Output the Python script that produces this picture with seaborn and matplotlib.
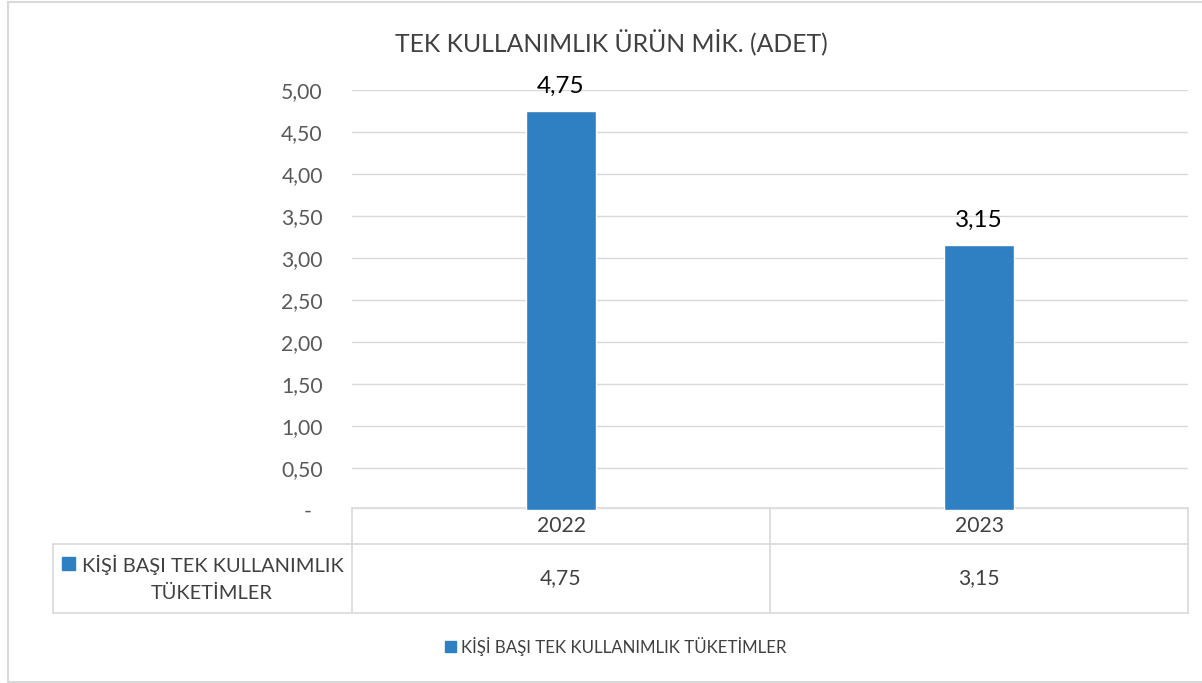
import numpy as np
import pandas as pd
import seaborn as sns
import matplotlib.pyplot as plt
from matplotlib.patches import Patch, Rectangle
from matplotlib.lines import Line2D
from matplotlib.transforms import blended_transform_factory

# chart data
years = ['2022', '2023']
values = [4.75, 3.15]
series_name = 'KİŞİ BAŞI TEK KULLANIMLIK TÜKETİMLER'
title = 'TEK KULLANIMLIK ÜRÜN MİK. (ADET)'
yticks = np.arange(0, 5.01, 0.5)


def tr_fmt(v, zero='-'):
    # excel accounting style: 0 -> "-", decimals with comma
    if v == 0:
        return zero
    return f'{v:.2f}'.replace('.', ',')


sns.set_theme(style='white')
plt.rcParams['font.family'] = ['Lato', 'DejaVu Sans']

bar_color = '#2E80C2'
grid_color = '#D9D9D9'
text_color = '#404040'

df = pd.DataFrame({'year': years, 'value': values})

fig = plt.figure(figsize=(12.02, 6.83), dpi=100)
W, H = 1202, 683

# overlay in pixel coords (origin top-left) for border / table
over = fig.add_axes([0, 0, 1, 1])
over.set_xlim(0, W)
over.set_ylim(H, 0)
over.set_axis_off()

ax = fig.add_axes([352 / W, 1 - 510 / H, (1188 - 352) / W, (510 - 90) / H])
sns.barplot(data=df, x='year', y='value', color=bar_color, width=0.167,
            saturation=1, ax=ax)
ax.set_xlim(-0.5, 1.5)
ax.set_ylim(0, 5)
ax.set_yticks(yticks)
ax.set_yticklabels([tr_fmt(v, zero='-  ') for v in yticks], fontsize=15.2, color='#595959')
ax.tick_params(axis='y', length=0, pad=21)
ax.set_xticks([])
ax.set_xlabel('')
ax.set_ylabel('')
for s in ax.spines.values():
    s.set_visible(False)
ax.grid(axis='y', color=grid_color, linewidth=1)
ax.set_axisbelow(True)
ax.patch.set_alpha(0)

for i, v in enumerate(values):
    ax.annotate(tr_fmt(v), (i, v), xytext=(0, 10.5), textcoords='offset points',
                ha='center', va='bottom', fontsize=17.5, color='black')

fig.text(611 / W, 1 - 42 / H, title, ha='center', va='center', fontsize=17.8,
         color=text_color)

# outer border (right edge runs past the image)
over.add_line(Line2D([8, 8, W + 5], [2, 682, 682], color=grid_color, lw=1.5))
over.add_line(Line2D([8, W + 5], [2, 2], color=grid_color, lw=1.5))

# data table under the axis, columns follow the category bands
bt = blended_transform_factory(ax.transData, over.transData)
row_top, row_mid, row_bot = 508, 544, 613
left_edge = 53
over.add_line(Line2D([-0.5, 1.5], [row_top, row_top], transform=bt, color=grid_color, lw=1.2))
over.add_line(Line2D([left_edge, 1188], [row_mid, row_mid], color=grid_color, lw=1.2))
over.add_line(Line2D([left_edge, 1188], [row_bot, row_bot], color=grid_color, lw=1.2))
over.add_line(Line2D([left_edge, left_edge], [row_mid, row_bot], color=grid_color, lw=1.2))
for xb in [-0.5, 0.5, 1.5]:
    over.add_line(Line2D([xb, xb], [row_top, row_bot], transform=bt, color=grid_color, lw=1.2))
for i, (yr, v) in enumerate(zip(years, values)):
    over.text(i, (row_top + row_mid) / 2, yr, transform=bt, ha='center', va='center',
              fontsize=15.2, color=text_color)
    over.text(i, (row_mid + row_bot) / 2, tr_fmt(v), transform=bt, ha='center', va='center',
              fontsize=15.2, color=text_color)

name_l1 = ' '.join(series_name.split()[:4])
name_l2 = series_name.split()[4]
over.add_patch(Rectangle((62, 557), 13, 13, color=bar_color))
over.text(82, 565, name_l1, ha='left', va='center', fontsize=14.4, color=text_color)
over.text(212, 593, name_l2, ha='center', va='center', fontsize=14.4, color=text_color)

fig.legend(handles=[Patch(color=bar_color, label=series_name)], loc='center',
           bbox_to_anchor=(616 / W, 1 - 646 / H), frameon=False, fontsize=12.2,
           handlelength=0.65, handleheight=0.65, handletextpad=0.3,
           labelcolor=text_color)

fig.savefig('out.png', dpi=100)
